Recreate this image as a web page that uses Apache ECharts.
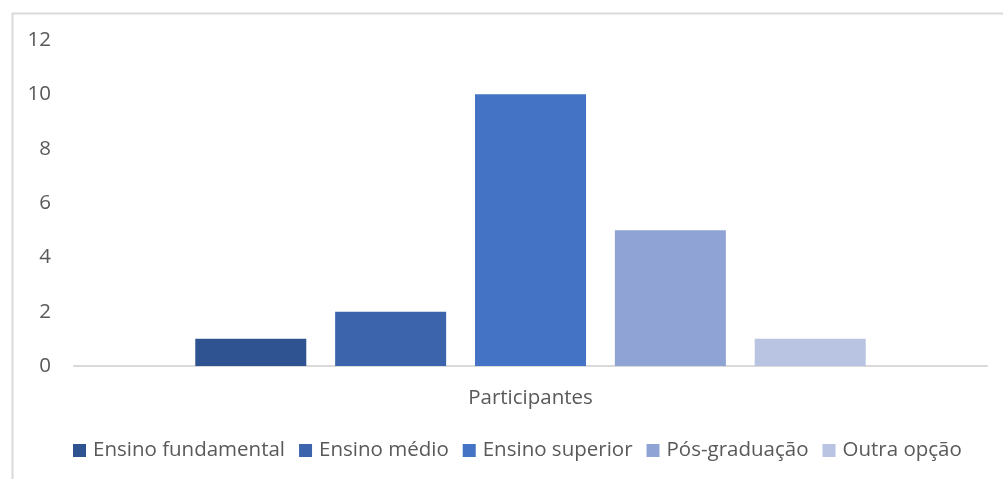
<!DOCTYPE html>
<html>
<head>
<meta charset="utf-8">
<script src="https://cdn.jsdelivr.net/npm/echarts@6/dist/echarts.min.js"></script>
<style>html,body{margin:0;padding:0;background:#fff}#c{width:1003px;height:479px}</style>
</head>
<body>
<div id="c"></div>
<script>
const categories = ['Participantes'];
const seriesNames = ['Ensino fundamental', 'Ensino médio', 'Ensino superior', 'Pós-graduação', 'Outra opção'];
const seriesValues = [[1], [2], [10], [5], [1]];
const seriesColors = ['#2F5391', '#3B64AD', '#4472C4', '#8FA4D5', '#B9C3E2'];
const yTicks = { min: 0, max: 12, interval: 2 };

const chart = echarts.init(document.getElementById('c'));
const font = '"Open Sans", "Noto Sans", sans-serif';
chart.setOption({
  animation: false,
  textStyle: { fontFamily: font },
  graphic: [{
    type: 'rect', left: 10, top: 11,
    shape: { width: 1100, height: 600 },
    style: { fill: 'none', stroke: '#d9d9d9', lineWidth: 2 },
    silent: true
  }],
  grid: { left: 74, right: 16, top: 40, bottom: 113, containLabel: false },
  legend: {
    top: 435, left: 68,
    itemWidth: 13, itemHeight: 13, itemGap: 14,
    icon: 'rect',
    textStyle: { fontSize: 20.5, color: '#595959', fontFamily: font, padding: [0, 0, 0, 2] },
    data: seriesNames
  },
  xAxis: {
    type: 'category', data: categories,
    axisLine: { lineStyle: { color: '#d9d9d9', width: 2 } },
    axisTick: { show: false },
    axisLabel: { fontSize: 20.5, color: '#595959', margin: 22, fontFamily: font }
  },
  yAxis: {
    type: 'value', min: yTicks.min, max: yTicks.max, interval: yTicks.interval,
    splitLine: { show: false },
    axisLine: { show: false }, axisTick: { show: false },
    axisLabel: { fontSize: 20.5, color: '#595959', margin: 23, fontFamily: font }
  },
  series: seriesNames.map((n, i) => ({
    name: n, type: 'bar', data: seriesValues[i],
    barWidth: 111, barGap: '26%',
    itemStyle: { color: seriesColors[i] }
  }))
});
</script>
</body>
</html>
